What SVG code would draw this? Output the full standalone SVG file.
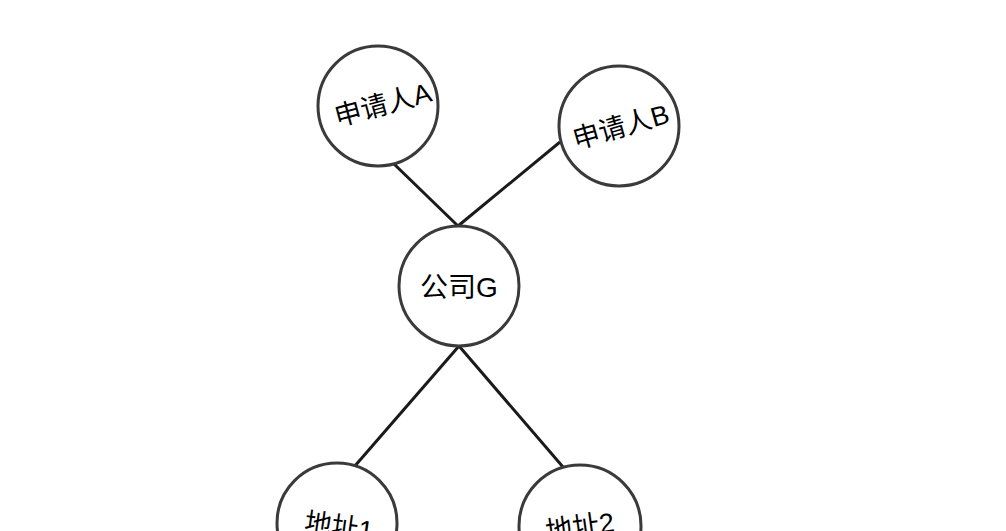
<svg xmlns="http://www.w3.org/2000/svg" width="1006" height="531" viewBox="0 0 1006 531">
<style>
.node{fill:#ffffff;stroke:#3a3a3a;stroke-width:3}
.edge{stroke:#1a1a1a;stroke-width:3;fill:none}
.lbl{font-family:"Liberation Sans","Noto Sans CJK SC",sans-serif;font-size:27px;fill:#000;text-anchor:middle;dominant-baseline:central}
</style>
<rect width="1006" height="531" fill="#ffffff"/>
<g id="connectors">
<line class="edge" x1="393" y1="163" x2="458" y2="226"/>
<line class="edge" x1="560" y1="142" x2="458" y2="226"/>
<line class="edge" x1="459" y1="346" x2="354" y2="467"/>
<line class="edge" x1="459" y1="346" x2="563" y2="467"/>
</g>
<g id="nodeA">
<circle class="node" cx="378" cy="106" r="60"/>
<text class="lbl" transform="translate(383,105) rotate(-15)">申请人A</text>
</g>
<g id="nodeB">
<circle class="node" cx="619" cy="126" r="60"/>
<text class="lbl" transform="translate(621,127) rotate(-16)">申请人B</text>
</g>
<g id="nodeG">
<circle class="node" cx="459" cy="286" r="60"/>
<text class="lbl" transform="translate(459,287)" style="font-size:28px">公司G</text>
</g>
<g id="addr1">
<circle class="node" cx="337" cy="523" r="60"/>
<text class="lbl" transform="translate(339,527) rotate(8)">地址1</text>
</g>
<g id="addr2">
<circle class="node" cx="580" cy="526" r="61"/>
<text class="lbl" transform="translate(580,527) rotate(-8)">地址2</text>
</g>
</svg>
